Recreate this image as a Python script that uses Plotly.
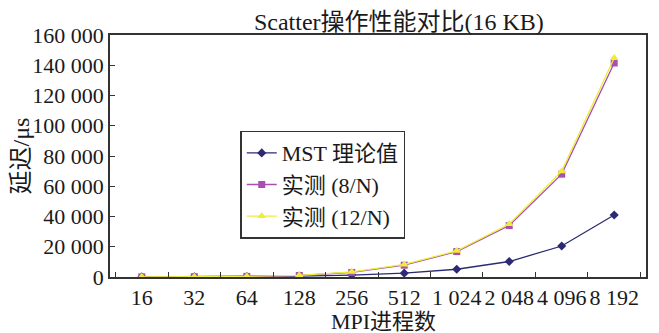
import plotly.graph_objects as go

categories = ["16", "32", "64", "128", "256", "512", "1 024", "2 048", "4 096", "8 192"]
mst = [80, 160, 320, 640, 1280, 2560, 5120, 10240, 20480, 40960]
meas8 = [100, 200, 400, 1000, 3000, 7800, 16800, 34000, 68000, 141500]
meas12 = [110, 220, 450, 1100, 3400, 8300, 17300, 35000, 70000, 144800]
ytickvals = [0, 20000, 40000, 60000, 80000, 100000, 120000, 140000, 160000]
yticktext = ["0", "20 000", "40 000", "60 000", "80 000", "100 000", "120 000", "140 000", "160 000"]

FONT = "Liberation Serif, Times New Roman, Noto Sans CJK SC, serif"
TXT = "#1a1a1a"

fig = go.Figure()
fig.add_trace(go.Scatter(x=categories, y=mst, mode="lines+markers", name="MST 理论值",
                         line=dict(color="#2b2a73", width=1.3),
                         marker=dict(symbol="diamond", size=7, color="#2b2a73")))
fig.add_trace(go.Scatter(x=categories, y=meas8, mode="lines+markers", name="实测 (8/N)",
                         line=dict(color="#a84fb0", width=1.3),
                         marker=dict(symbol="square", size=7, color="#a84fb0")))
fig.add_trace(go.Scatter(x=categories, y=meas12, mode="lines+markers", name="实测 (12/N)",
                         line=dict(color="#eded3a", width=1.3),
                         marker=dict(symbol="triangle-up", size=8, color="#eded3a")))

fig.update_layout(
    width=659, height=333,
    margin=dict(l=102, r=21, t=27, b=64),
    paper_bgcolor="white", plot_bgcolor="white",
    font=dict(family=FONT, size=22, color=TXT),
    title=dict(text="Scatter操作性能对比(16 KB)", x=0.539, xref="paper", xanchor="center",
               y=0.958, yanchor="middle", font=dict(family=FONT, size=24, color=TXT)),
    showlegend=True,
    legend=dict(x=0.243, y=0.605, xanchor="left", yanchor="top",
                bordercolor="#333333", borderwidth=1.5, bgcolor="white",
                font=dict(family=FONT, size=22), tracegroupgap=0, itemwidth=30),
    xaxis=dict(type="category", showline=True, linecolor="#333333", linewidth=1.5, mirror=True,
               ticks="inside", ticklen=5, tickcolor="#333333", tickson="boundaries",
               showgrid=False, tickfont=dict(family=FONT, size=22), tickangle=0, automargin=False),
    yaxis=dict(range=[0, 160000], tickvals=ytickvals, ticktext=yticktext,
               showline=True, linecolor="#333333", linewidth=1.5, mirror=True,
               ticks="inside", ticklen=5, tickcolor="#333333", showgrid=False, zeroline=False,
               tickfont=dict(family=FONT, size=22), automargin=False,
               title=dict(text="延迟/μs", font=dict(family=FONT, size=24), standoff=2)),
    annotations=[dict(text="MPI进程数", xref="paper", yref="paper", x=0.51, y=-0.185,
                      xanchor="center", yanchor="middle", showarrow=False,
                      font=dict(family=FONT, size=22, color=TXT))],
)

fig.write_html("out.html")
